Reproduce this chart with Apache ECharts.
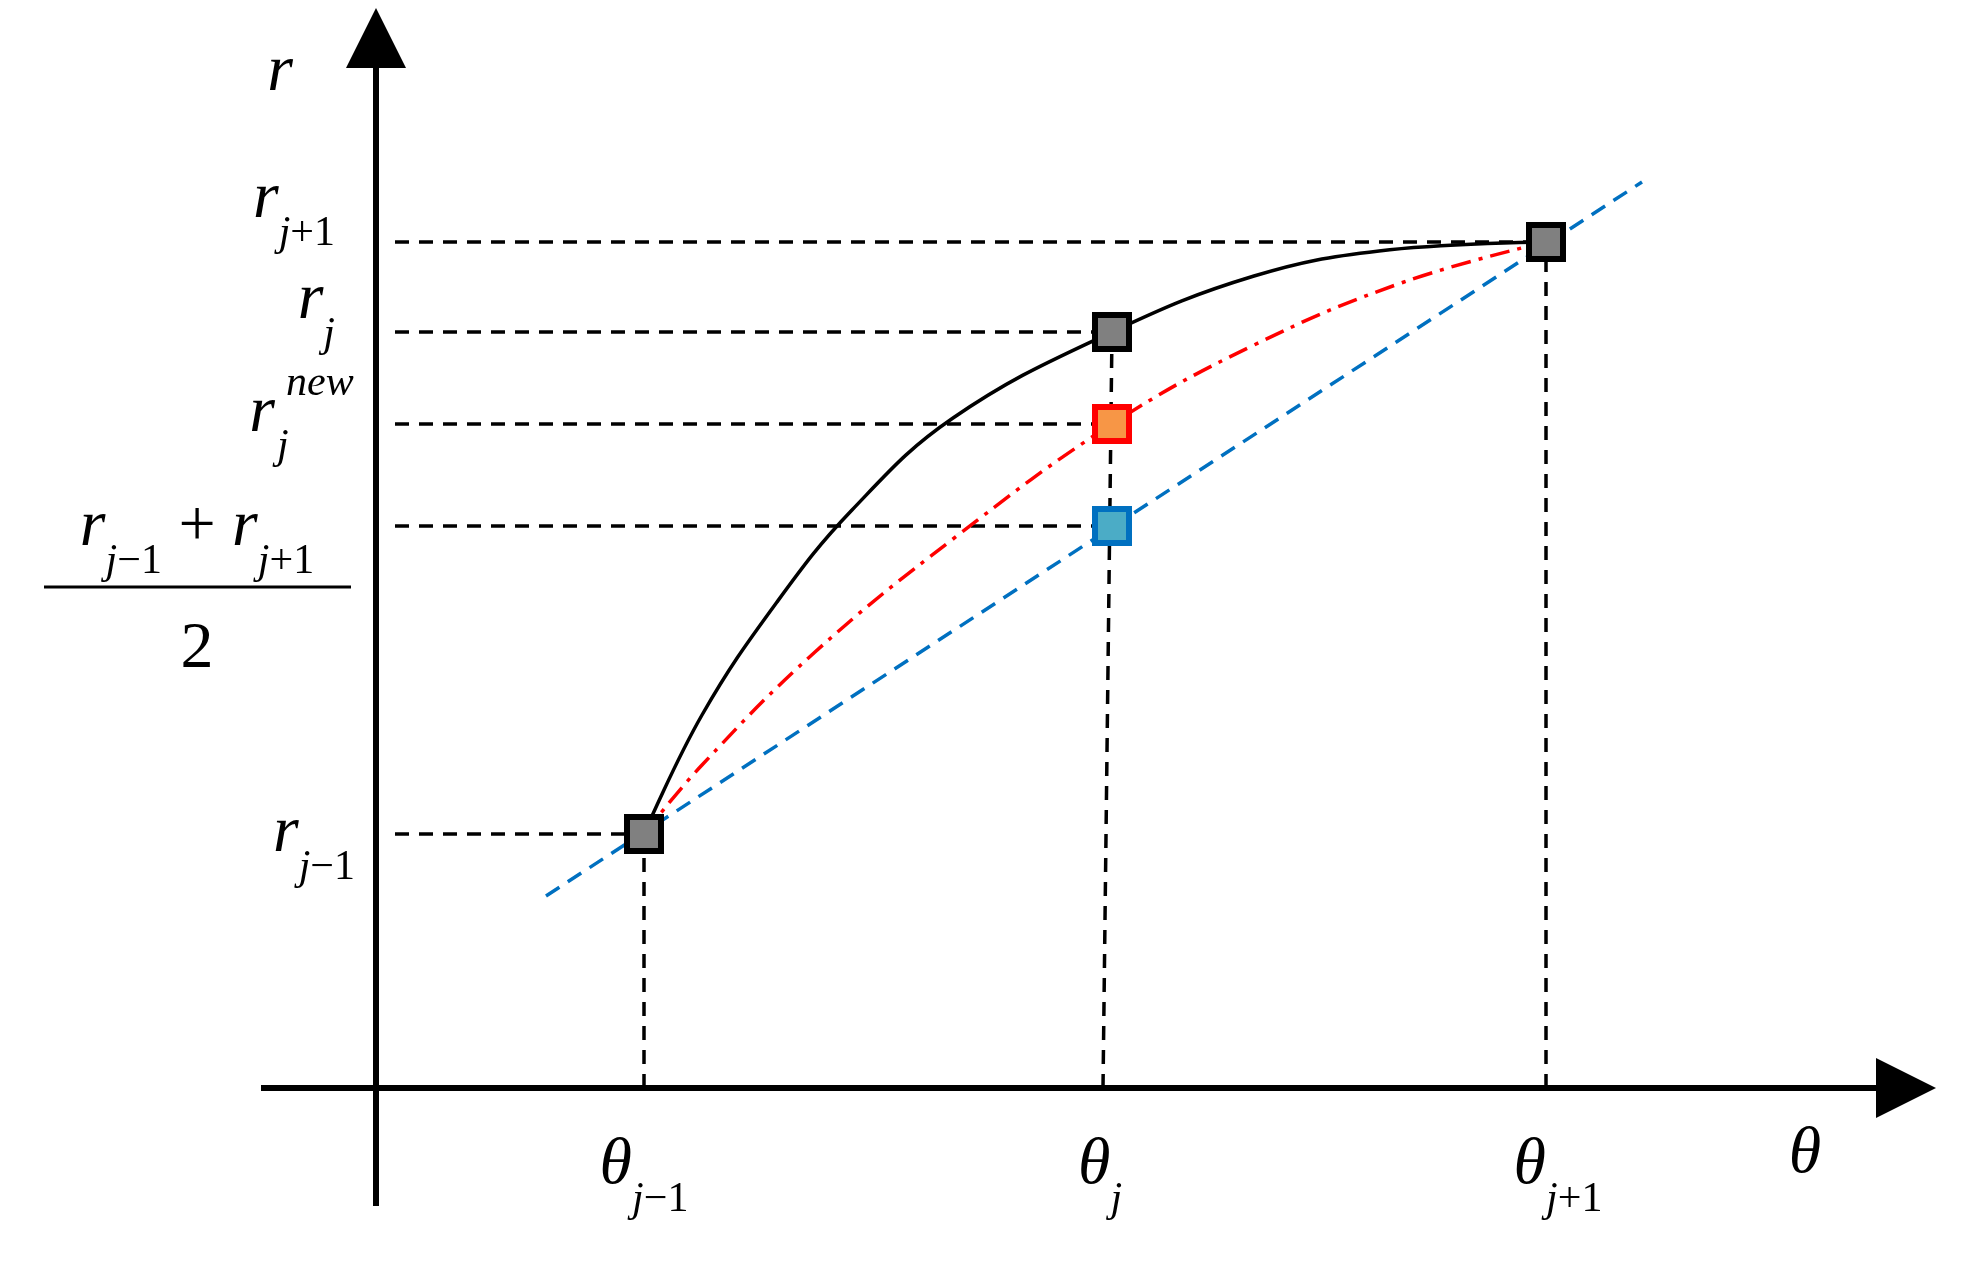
<!DOCTYPE html><html><head><meta charset="utf-8"><script src="https://cdn.jsdelivr.net/npm/echarts@6/dist/echarts.min.js"></script>
<style>html,body{margin:0;background:#fff}#c{width:1963px;height:1266px}</style></head><body><div id="c"></div><script>
const theta=[268,736,1170];
const rPts=[254,756,846];
const rNew=664, rMid=562;
const blackCurve=[[268,254],[326,373],[401,486],[476,578],[577,670],[736,756],[878,812],[1003,837],[1170,846]];
const redCurve=[[268,254],[326,323],[439,436],[577,549],[736,664],[878,743],[1028,806],[1170,846]];
const blueLine=[[170,192],[1266,906]];
const F='Liberation Serif';
const ch=echarts.init(document.getElementById('c'));
const dash={color:'#000',width:3.5,type:[14,10],opacity:1};
const hl=(y,x)=>({coords:[[19,y],[x,y]]});
const base={fontFamily:F,fontStyle:'italic'};
const rich={r:{...base,fontSize:66},s:{...base,fontSize:42,verticalAlign:'bottom',padding:[0,0,-22,0]},
 n:{fontFamily:F,fontSize:42,verticalAlign:'bottom',padding:[0,0,-22,0]},p:{fontFamily:F,fontSize:66},t:{...base,fontSize:66}};
const txt=(x,y,s,align)=>({type:'text',x,y,style:{text:s,rich,fontFamily:F,align:align||'right',verticalAlign:'middle',fill:'#000'}});
ch.setOption({animation:false,
grid:{left:0,right:0,top:0,bottom:0},
xAxis:{type:'value',min:-376,max:1587,show:false},
yAxis:{type:'value',min:-178,max:1088,show:false},
series:[
{type:'lines',coordinateSystem:'cartesian2d',silent:true,symbol:['none','triangle'],symbolSize:[40,60],lineStyle:{color:'#000',width:6,opacity:1},itemStyle:{color:'#000'},
 data:[{coords:[[-115,0],[1530,0]]},{coords:[[0,-118],[0,1050]]}]},
{type:'lines',coordinateSystem:'cartesian2d',silent:true,lineStyle:dash,
 data:[hl(rPts[2],theta[2]),hl(rPts[1],theta[1]),hl(rNew,theta[1]),hl(rMid,theta[1]),hl(rPts[0],theta[0]),
 {coords:[[theta[0],0],[theta[0],rPts[0]]]},{coords:[[727,0],[theta[1],rPts[1]]]},{coords:[[theta[2],0],[theta[2],rPts[2]]]}]},
{type:'line',data:blueLine,symbol:'none',lineStyle:{color:'#0070c0',width:3.5,type:[16,10]}},
{type:'line',data:redCurve,smooth:0.4,symbol:'none',lineStyle:{color:'#ff0000',width:3.5,type:[20,8,4,8]}},
{type:'line',data:blackCurve,smooth:0.4,symbol:'none',lineStyle:{color:'#000',width:3.5}},
{type:'scatter',data:theta.map((t,i)=>[t,rPts[i]]),symbol:'rect',symbolSize:34,itemStyle:{color:'#808080',borderColor:'#000',borderWidth:6,opacity:1},z:5},
{type:'scatter',data:[[theta[1],rNew]],symbol:'rect',symbolSize:34,itemStyle:{color:'#f79646',borderColor:'#ff0000',borderWidth:6,opacity:1},z:5},
{type:'scatter',data:[[theta[1],rMid]],symbol:'rect',symbolSize:34,itemStyle:{color:'#4bacc6',borderColor:'#0070c0',borderWidth:6,opacity:1},z:5}
],
graphic:[
 txt(280,73,'{r|r}','center'),
 txt(335,200,'{r|r}{s|j}{n|+1}'),
 txt(335,301,'{r|r}{s|j}'),
 txt(275,414,'{r|r}'),
 {type:'text',x:277,y:426,style:{text:'j',fontFamily:F,fontStyle:'italic',fontSize:42,fill:'#000',verticalAlign:'top'}},
 {type:'text',x:286,y:384,style:{text:'new',fontFamily:F,fontStyle:'italic',fontSize:42,fill:'#000',verticalAlign:'middle'}},
 txt(197,528,'{r|r}{s|j}{n|−1}{p| + }{r|r}{s|j}{n|+1}','center'),
 {type:'line',shape:{x1:44,y1:587,x2:351,y2:587},style:{stroke:'#000',lineWidth:3}},
 txt(197,650,'{p|2}','center'),
 txt(355,834,'{r|r}{s|j}{n|−1}'),
 txt(644,1166,'{t|θ}{s|j}{n|−1}','center'),
 txt(1100,1166,'{t|θ}{s|j}','center'),
 txt(1558,1166,'{t|θ}{s|j}{n|+1}','center'),
 txt(1805,1155,'{t|θ}','center')
]});
</script></body></html>
